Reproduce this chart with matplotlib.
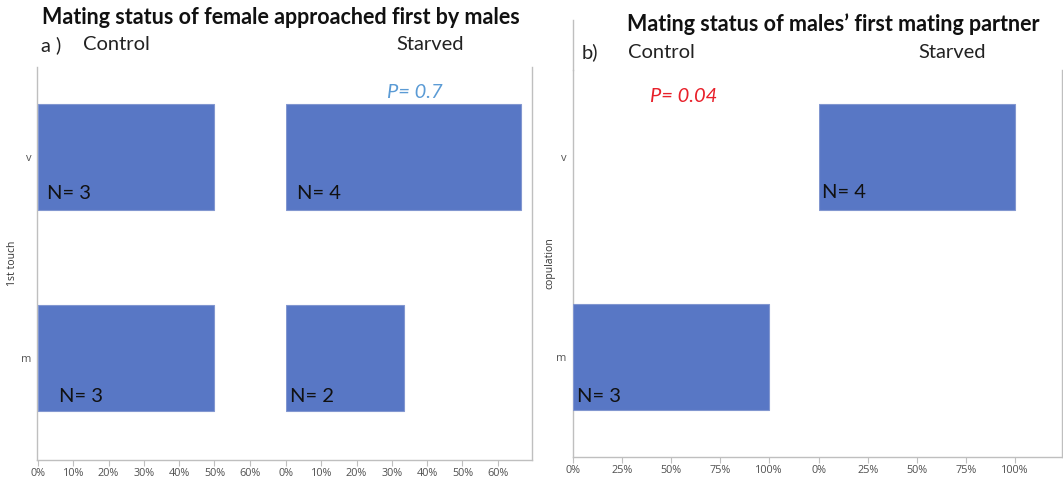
import matplotlib
matplotlib.use("Agg")
import matplotlib.pyplot as plt
from matplotlib.lines import Line2D
import numpy as np

# Counts of first-approached / first-mated females by mating status (m = mated, v = virgin)
categories = ["m", "v"]
groups = ["Control", "Starved"]
touch_counts = {"Control": [3, 3], "Starved": [2, 4]}
copulation_counts = {"Control": [3, 0], "Starved": [0, 4]}
touch_ticks = [0, 0.1, 0.2, 0.3, 0.4, 0.5, 0.6]
copulation_ticks = [0, 0.25, 0.5, 0.75, 1.0]
p_touch = "P= 0.7"
p_copulation = "P= 0.04"

W, H = 1063, 482
fig = plt.figure(figsize=(W / 100, H / 100), dpi=100)
fig.patch.set_facecolor("white")

bar_color = "#5877C5"
bar_edge = "#8297D0"
frame_color = "#BFBFBF"
tick_color = "#505050"
font = "Lato"


def rect(x0, x1, ytop, ybot):
    return [x0 / W, 1 - ybot / H, (x1 - x0) / W, (ybot - ytop) / H]


def panel(frame_box, sub_boxes, ylim, counts, ticks, ylabel, label_x, n_pos):
    x0, x1, ytop, ybot = frame_box
    frame = fig.add_axes(rect(x0, x1, ytop, ybot))
    frame.set_xticks([])
    frame.set_yticks([])
    frame.spines["top"].set_visible(False)
    for s in ["left", "bottom", "right"]:
        frame.spines[s].set_color(frame_color)
        frame.spines[s].set_linewidth(1.0)
    frame.set_zorder(0)

    y = np.arange(len(categories))
    subs = []
    for g, (sx0, sx1, xmax) in zip(groups, sub_boxes):
        ax = fig.add_axes(rect(sx0, sx1, ytop, ybot))
        ax.patch.set_alpha(0)
        ax.set_zorder(1)
        vals = np.array(counts[g])
        share = vals / vals.sum()
        keep = share > 0
        ax.barh(y[keep], share[keep], height=0.53, color=bar_color,
                edgecolor=bar_edge, linewidth=0.8)
        ax.set_xlim(0, xmax)
        ax.set_ylim(*ylim)
        for s in ax.spines.values():
            s.set_visible(False)
        ax.set_xticks(ticks)
        ax.set_xticklabels([f"{int(round(t * 100))}%" for t in ticks],
                           fontsize=7.8, color=tick_color, family="Open Sans")
        ax.tick_params(axis="x", length=4, width=0.8, color=frame_color, pad=2)
        ax.set_yticks([])
        for (cat_i, xoff, yoff) in n_pos[g]:
            ax.text(xoff, y[cat_i] + yoff, f"N= {vals[cat_i]}",
                    fontsize=14.5, family=font, color="#111111",
                    ha="left", va="center")
        subs.append(ax)

    c = subs[0]
    c.set_yticks(y)
    c.set_yticklabels(categories, fontsize=8, color="#555555",
                      family="Open Sans")
    c.tick_params(axis="y", length=0, pad=5)
    c.set_ylabel(ylabel, fontsize=7.5, color="#333333", family="Open Sans")
    width = sub_boxes[0][1] - sub_boxes[0][0]
    c.yaxis.set_label_coords((label_x - sub_boxes[0][0]) / width, 0.5)
    return subs


panel((37, 532, 67, 460),
      [(38, 278, 0.68), (286, 533, 0.70)],
      (-0.507, 1.448), touch_counts, touch_ticks, "1st touch", 18,
      {"Control": [(1, 0.025, -0.18), (0, 0.06, -0.19)],
       "Starved": [(1, 0.03, -0.18), (0, 0.01, -0.19)]})

panel((573, 1062, 70, 457),
      [(573, 808, 1.2), (819, 1060, 1.23)],
      (-0.5, 1.435), copulation_counts, copulation_ticks, "copulation", 555,
      {"Control": [(0, 0.02, -0.195)],
       "Starved": [(1, 0.015, -0.18)]})

# left axis line of panel b runs up past the frame top
fig.add_artist(Line2D([573 / W, 573 / W], [1 - 20 / H, 1 - 70 / H],
                      color=frame_color, linewidth=1.0))


def ftext(x, y, s, **kw):
    fig.text(x / W, 1 - y / H, s, family=font, va="center", **kw)


ftext(281, 17, "Mating status of female approached first by males",
      fontsize=15.5, fontweight="bold", ha="center", color="#111111")
ftext(833, 24, "Mating status of males\u2019 first mating partner",
      fontsize=15.5, fontweight="bold", ha="center", color="#111111")

ftext(41, 45, "a )", fontsize=14.5, ha="left", color="#222222")
ftext(83, 45, "Control", fontsize=14.5, ha="left", color="#222222")
ftext(430, 45, "Starved", fontsize=14.5, ha="center", color="#222222")
ftext(582, 52, "b)", fontsize=14.5, ha="left", color="#222222")
ftext(628, 52, "Control", fontsize=14.5, ha="left", color="#222222")
ftext(952, 52, "Starved", fontsize=14.5, ha="center", color="#222222")

ftext(415, 92, p_touch, fontsize=14.5, style="italic", ha="center",
      color="#5B9BD5")
ftext(650, 97, p_copulation, fontsize=14.5, style="italic", ha="left",
      color="#E8202A")

fig.savefig("out.png", dpi=100)
